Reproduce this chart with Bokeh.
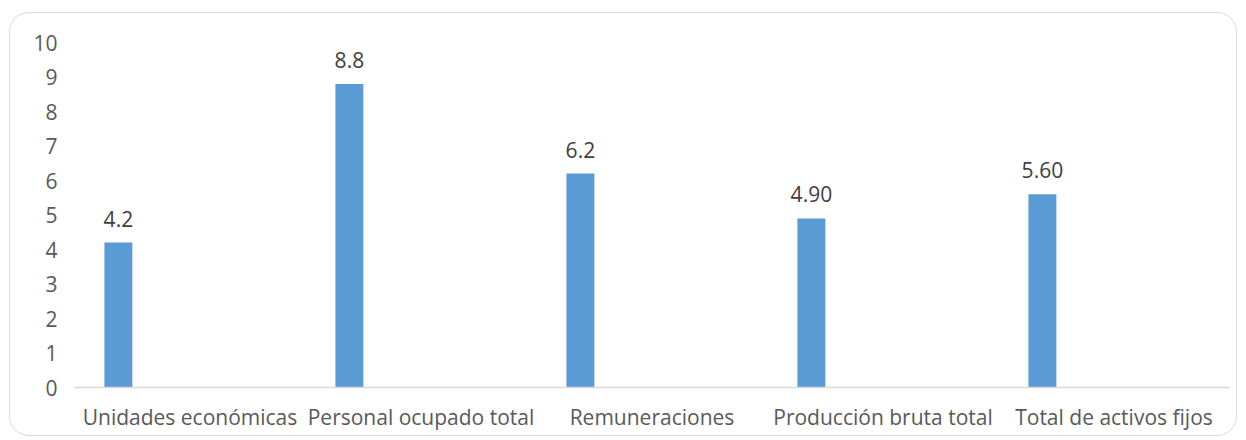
from bokeh.plotting import figure
from bokeh.models import ColumnDataSource, FactorRange, Range1d, FixedTicker
from bokeh.transform import dodge
from bokeh.core.properties import value
from bokeh.embed import file_html
from bokeh.resources import INLINE

categories = ["Unidades económicas", "Personal ocupado total", "Remuneraciones",
              "Producción bruta total", "Total de activos fijos"]
values = [4.2, 8.8, 6.2, 4.9, 5.6]
labels = ["4.2", "8.8", "6.2", "4.90", "5.60"]
y_ticks = list(range(0, 11))

src = ColumnDataSource(dict(cat=categories, val=values, lab=labels))

p = figure(width=1228, height=424, x_range=FactorRange(*categories), y_range=Range1d(0, 10),
           output_backend="svg", toolbar_location=None,
           min_border_left=64, min_border_right=9, min_border_top=29, min_border_bottom=50)
p.styles = {"border": "1px solid #d9d9d9", "border-radius": "20px", "margin-top": "12px", "margin-left": "9px"}
p.outline_line_color = None
p.background_fill_color = "white"
p.border_fill_color = None
p.xgrid.visible = False
p.ygrid.visible = False
p.x_range.range_padding = 0

p.vbar(x=dodge("cat", -0.31, range=p.x_range), top="val", width=0.121, source=src,
       fill_color="#5b9bd5", line_color=None)
p.text(x=dodge("cat", -0.31, range=p.x_range), y="val", text="lab", source=src,
       text_align="center", text_baseline="bottom", y_offset=-16,
       text_font=value("Open Sans"), text_font_size="21px", text_color="#404040")

p.yaxis.ticker = FixedTicker(ticks=y_ticks)
p.yaxis.axis_line_color = None
p.yaxis.major_tick_line_color = None
p.yaxis.minor_tick_line_color = None
p.yaxis.major_label_standoff = 11
p.yaxis.major_label_text_font = "Open Sans"
p.yaxis.major_label_text_font_size = "21px"
p.yaxis.major_label_text_color = "#595959"

p.xaxis.axis_line_color = "#d9d9d9"
p.xaxis.axis_line_width = 1.5
p.xaxis.major_tick_line_color = None
p.xaxis.minor_tick_line_color = None
p.xaxis.major_label_standoff = 9
p.xaxis.major_label_text_font = "Open Sans"
p.xaxis.major_label_text_font_size = "21px"
p.xaxis.major_label_text_color = "#595959"

open("out.html", "w").write(file_html(p, INLINE))
